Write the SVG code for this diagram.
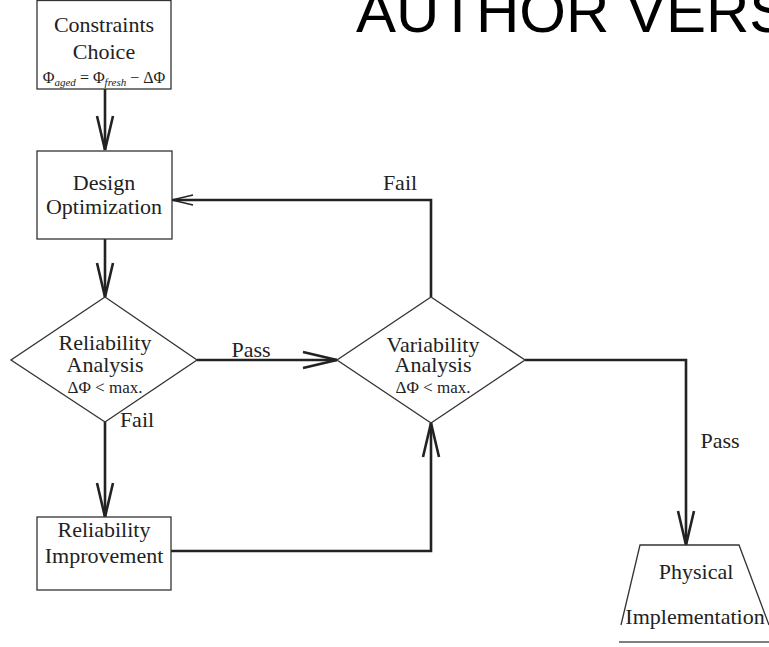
<svg xmlns="http://www.w3.org/2000/svg" width="769" height="647" viewBox="0 0 769 647">
  <style>
    .node { fill: #ffffff; stroke: #333333; stroke-width: 1.3; }
    .lbl { font-family: "Liberation Serif", "Times New Roman", serif; font-size: 22px; fill: #222222; text-anchor: middle; }
    .small { font-size: 17px; }
    .conn { fill: none; stroke: #222222; stroke-width: 2.6; }
    .wm { font-family: "Liberation Sans", Arial, sans-serif; font-size: 60px; fill: #000000; }
  </style>
  <defs>
    <marker id="vhead" markerUnits="userSpaceOnUse" markerWidth="40" markerHeight="24" viewBox="-36 -12 40 24" refX="0" refY="0" orient="auto">
      <path d="M-34,-8 L0,0 L-34,8" fill="none" stroke="#222222" stroke-width="2.6"/>
    </marker>
    <marker id="vheadSmall" markerUnits="userSpaceOnUse" markerWidth="26" markerHeight="16" viewBox="-24 -8 26 16" refX="0" refY="0" orient="auto">
      <path d="M-21,-5 L0,0 L-21,5" fill="none" stroke="#222222" stroke-width="1.4"/>
    </marker>
  </defs>

  <text class="wm" x="356" y="32">AUTHOR VERS</text>

  <g id="connectors">
    <path class="conn" d="M105,89 L105,150" marker-end="url(#vhead)"/>
    <path class="conn" d="M105,239 L105,297" marker-end="url(#vhead)"/>
    <path class="conn" d="M197,360 L337,360" marker-end="url(#vhead)"/>
    <path class="conn" d="M105,422 L105,517" marker-end="url(#vhead)"/>
    <path class="conn" d="M171,551 L431,551 L431,423" marker-end="url(#vhead)"/>
    <path class="conn" d="M431,297 L431,200 L172,200" marker-end="url(#vheadSmall)"/>
    <path class="conn" d="M525,360 L686,360 L686,545" marker-end="url(#vhead)"/>
    <text class="lbl" x="251" y="357">Pass</text>
    <text class="lbl" x="400" y="190">Fail</text>
    <text class="lbl" x="137" y="427">Fail</text>
    <text class="lbl" x="720" y="448">Pass</text>
  </g>

  <g id="constraints">
    <rect class="node" x="37" y="0.5" width="134" height="88.5"/>
    <text class="lbl" x="104" y="32">Constraints</text>
    <text class="lbl" x="104" y="59">Choice</text>
    <text class="lbl" x="104" y="83" style="font-size:16px">Φ<tspan font-style="italic" font-size="11" dy="3">aged</tspan><tspan dy="-3"> = Φ</tspan><tspan font-style="italic" font-size="11" dy="3">fresh</tspan><tspan dy="-3"> − ΔΦ</tspan></text>
  </g>

  <g id="design">
    <rect class="node" x="37" y="151" width="135" height="88"/>
    <text class="lbl" x="104" y="190">Design</text>
    <text class="lbl" x="104" y="214">Optimization</text>
  </g>

  <g id="reliability-analysis">
    <polygon class="node" points="105,297 197,360 105,422 11,360"/>
    <text class="lbl" x="105" y="350">Reliability</text>
    <text class="lbl" x="105" y="372">Analysis</text>
    <text class="lbl small" x="105" y="393">ΔΦ &lt; max.</text>
  </g>

  <g id="variability-analysis">
    <polygon class="node" points="431,297 525,360 431,423 337,360"/>
    <text class="lbl" x="433" y="352">Variability</text>
    <text class="lbl" x="433" y="372">Analysis</text>
    <text class="lbl small" x="433" y="393">ΔΦ &lt; max.</text>
  </g>

  <g id="reliability-improvement">
    <rect class="node" x="37" y="517" width="134" height="73"/>
    <text class="lbl" x="104" y="537">Reliability</text>
    <text class="lbl" x="104" y="563">Improvement</text>
  </g>

  <g id="physical-implementation">
    <path class="node" d="M621,625 L640,545 L739,545 L769,625" fill="#ffffff"/>
    <line x1="619" y1="642" x2="769" y2="642" stroke="#555555" stroke-width="1.6"/>
    <text class="lbl" x="696" y="579">Physical</text>
    <text class="lbl" x="695" y="624">Implementation</text>
  </g>
</svg>
